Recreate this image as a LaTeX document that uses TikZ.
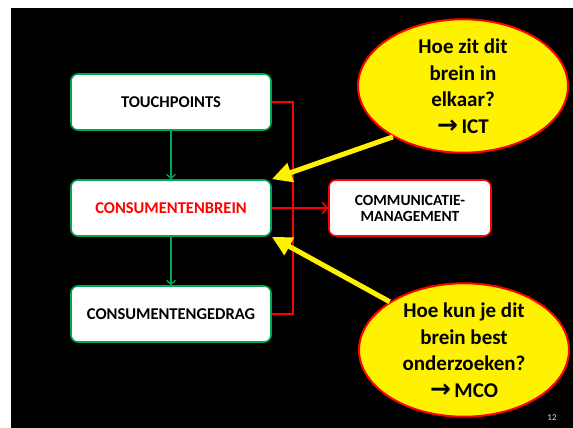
\documentclass[tikz,border=0pt]{standalone}
\usepackage{fontspec}
\setmainfont{Carlito}
\newfontfamily\arrowfont{DejaVu Sans}
\usepackage{tikz}
\usetikzlibrary{arrows.meta}
\usetikzlibrary{shapes.geometric}
\definecolor{boxgreen}{RGB}{0,168,84}
\definecolor{boxred}{RGB}{255,0,0}
\newcommand{\thickarrow}{{\arrowfont\bfseries\fontsize{25}{26}\selectfont →}}
\tikzset{
	box/.style={rectangle,rounded corners=7pt,draw=boxgreen,line width=1.6pt,fill=white,
		minimum width=200pt,minimum height=56pt,inner sep=0pt,align=center,
		font=\fontsize{16.5}{18}\selectfont\bfseries},
	commbox/.style={box,draw=boxred,minimum width=162pt,
		font=\fontsize{15.5}{16}\selectfont\bfseries},
	balloon/.style={ellipse,draw=boxred,line width=2pt,fill=yellow,
		minimum width=210pt,minimum height=132pt,inner sep=0pt,align=center,
		font=\fontsize{21}{26.5}\selectfont\bfseries},
	greenline/.style={draw=boxgreen,line width=1.3pt,-{Straight Barb[length=4pt,width=9pt]}},
	redline/.style={draw=boxred,line width=1.5pt},
	yellowarrow/.style={draw=yellow,line width=5pt,-{Triangle[length=20pt,width=19pt]}},
	pagenr/.style={text=white!85!black,font=\fontsize{9}{10}\selectfont}
}
\begin{document}
\begin{tikzpicture}[x=1pt,y=-1pt]
			\useasboundingbox(0,0)rectangle(573,428);
			\fill[white](0,0)rectangle(573,428);
			\fill[black](11,8)rectangle(573,428);
			% the three layers
			\node[box](touch)at(171,102){TOUCHPOINTS};
			\node[box,text=boxred](brein)at(171,208){CONSUMENTENBREIN};
			\node[box](gedrag)at(171,314){CONSUMENTENGEDRAG};
			\node[commbox](comm)at(410,208){COMMUNICATIE-\\MANAGEMENT};
			% the two questions
			\node[balloon](ict)at(463,86){Hoe zit dit\\brein in\\elkaar?\\\thickarrow\,ICT};
			\node[balloon](mco)at(464,350){Hoe kun je dit\\brein best\\onderzoeken?\\\thickarrow\,MCO};
			\node[pagenr](nr)at(552,418){12};
			\draw[greenline](touch)--(brein);
			\draw[greenline](brein)--(gedrag);
			\draw[redline](touch.east)--++(21,0)|-(gedrag.east);
			\draw[redline,-{Straight Barb[length=5pt,width=11pt]}](brein.east)--(comm.west);
			\draw[yellowarrow](ict.216)--(brein.north east);
			\draw[yellowarrow](mco.147)--(brein.south east);
		\end{tikzpicture}
\end{document}
